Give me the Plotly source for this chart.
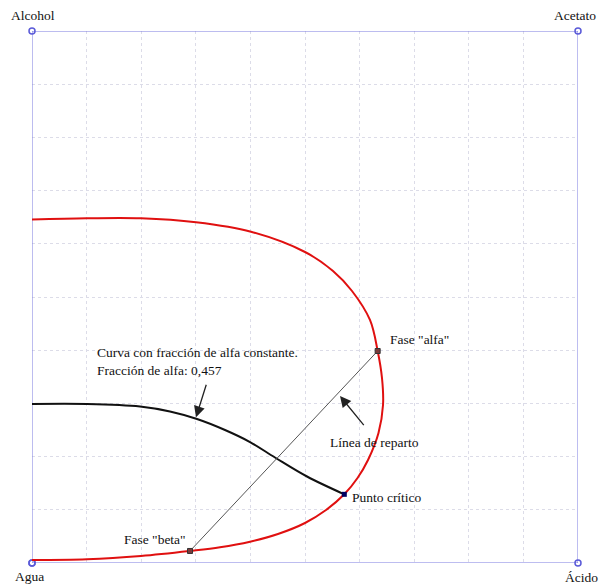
import plotly.graph_objects as go

# Binodal (solubility) curve, red
binodal_x = [0.0, 0.1007, 0.1996, 0.3004, 0.4011, 0.5, 0.5513, 0.5861, 0.6190, 0.6331,
             0.6410, 0.6429, 0.6346, 0.6154, 0.5962, 0.5720, 0.5385, 0.5, 0.4505, 0.3993,
             0.3443, 0.2894, 0.1996, 0.1007, 0.0]
binodal_y = [0.6457, 0.6479, 0.6479, 0.6404, 0.6227, 0.5846, 0.5489, 0.5113, 0.4568, 0.3985,
             0.3477, 0.2970, 0.2444, 0.1936, 0.1598, 0.1291, 0.0996, 0.0752, 0.0545, 0.0400,
             0.0295, 0.0226, 0.0132, 0.0070, 0.0056]

# Constant alpha-fraction curve (0,457), black
alpha_x = [0.0, 0.1007, 0.1978, 0.2527, 0.3022, 0.3535, 0.3993, 0.4451, 0.5037, 0.5720]
alpha_y = [0.2989, 0.2989, 0.2942, 0.2848, 0.2707, 0.2500, 0.2274, 0.1983, 0.1626, 0.1291]

# Tie line end points (beta, alfa)
tie_x = [0.2894, 0.6331]
tie_y = [0.0226, 0.3985]

# Critical point
crit_x = [0.5720]
crit_y = [0.1291]

# Square corners
corner_x = [0, 1, 1, 0, 0]
corner_y = [0, 0, 1, 1, 0]
corner_names = ["Agua", "Ácido", "Acetato", "Alcohol"]

FONT = "Liberation Serif, Times New Roman, serif"
FS = 13.5

fig = go.Figure()

fig.add_trace(go.Scatter(x=corner_x, y=corner_y, mode="lines+markers",
                         line=dict(color="#7b7be0", width=1),
                         marker=dict(symbol="circle-open", size=6, color="#5a5ad8", line=dict(width=1.5)),
                         cliponaxis=False, hoverinfo="skip"))

fig.add_trace(go.Scatter(x=binodal_x, y=binodal_y, mode="lines",
                         line=dict(color="#e01010", width=2, shape="spline", smoothing=1.0),
                         hoverinfo="skip"))

fig.add_trace(go.Scatter(x=alpha_x, y=alpha_y, mode="lines",
                         line=dict(color="#111111", width=2, shape="spline", smoothing=1.0),
                         hoverinfo="skip"))

fig.add_trace(go.Scatter(x=tie_x, y=tie_y, mode="lines+markers",
                         line=dict(color="#555555", width=1),
                         marker=dict(symbol="square", size=5, color="#7a3a3a", line=dict(color="#333333", width=1)),
                         hoverinfo="skip"))

fig.add_trace(go.Scatter(x=crit_x, y=crit_y, mode="markers",
                         marker=dict(symbol="square", size=5, color="#000060"),
                         hoverinfo="skip"))

ann = []
def txt(x, y, t, xa="center", ya="middle", ref="x"):
    ann.append(dict(x=x, y=y, text=t, showarrow=False,
                    xref="paper" if ref == "paper" else "x",
                    yref="paper" if ref == "paper" else "y",
                    xanchor=xa, yanchor=ya, align="left",
                    font=dict(family=FONT, size=FS, color="#111111")))

txt(0.002, 1.03, corner_names[3], ref="paper")
txt(0.995, 1.03, corner_names[2], ref="paper")
txt(-0.004, -0.026, corner_names[0], ref="paper")
txt(1.007, -0.028, corner_names[1], ref="paper")
txt(0.1154, 0.4135, "Curva con fracción de alfa constante.<br>Fracción de alfa: 0,457", xa="left", ya="top")
txt(0.652, 0.4192, 'Fase "alfa"', xa="left")
txt(0.628, 0.2274, "Línea de reparto")
txt(0.5824, 0.1222, "Punto crítico", xa="left")
txt(0.2857, 0.0451, 'Fase "beta"', xa="right")

for hx, hy, tx, ty in [(0.3004, 0.2739, 0.32, 0.3378), (0.5641, 0.3139, 0.6099, 0.2562)]:
    ann.append(dict(x=hx, y=hy, ax=tx, ay=ty, xref="x", yref="y", axref="x", ayref="y",
                    text="", showarrow=True, arrowhead=2, arrowsize=1.7, arrowwidth=1.3,
                    arrowcolor="#222222"))

grid = dict(range=[0, 1], dtick=0.1, tick0=0, showgrid=True, gridcolor="#dcdce8",
            griddash="dot", gridwidth=1, zeroline=False, showticklabels=False,
            showline=False, ticks="")

fig.update_layout(width=608, height=586, margin=dict(l=32, r=30, t=31, b=23),
                  plot_bgcolor="white", paper_bgcolor="white", showlegend=False,
                  xaxis=grid, yaxis=grid, annotations=ann)

fig.write_html("out.html")
